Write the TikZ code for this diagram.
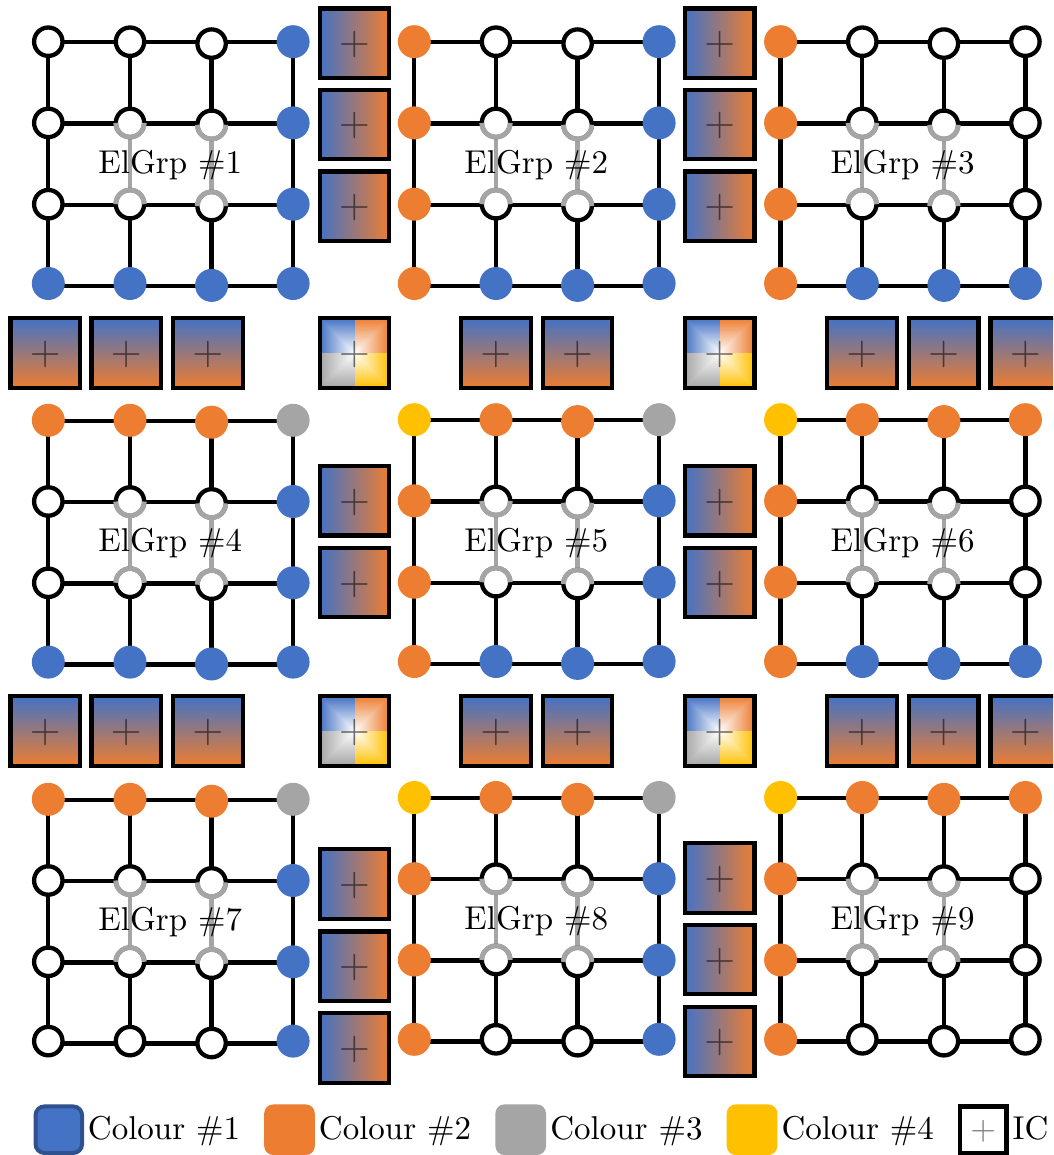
\documentclass[tikz,border=0pt]{standalone}
\usetikzlibrary{backgrounds}
\definecolor{elblue}{HTML}{4472C4}
\definecolor{elorange}{HTML}{ED7D31}
\definecolor{elgray}{HTML}{A5A5A5}
\definecolor{elyellow}{HTML}{FFC000}
\definecolor{elbluedark}{HTML}{2F528F}
\tikzset{
  dotbase/.style={circle,inner sep=0pt,outer sep=0pt,minimum size=33pt},
  vb/.style={dotbase,fill=elblue},
  vo/.style={dotbase,fill=elorange},
  vg/.style={dotbase,fill=elgray},
  vy/.style={dotbase,fill=elyellow},
  vw/.style={circle,inner sep=0pt,outer sep=0pt,minimum size=28.4pt,draw=black,fill=white,line width=4.3pt},
  conn/.style={draw=black,line width=4.3pt},
  connint/.style={draw=elgray,line width=4.3pt},
  ringint/.style={draw=elgray,line width=4.9pt},
  icbox/.style={rectangle,inner sep=0pt,outer sep=0pt,minimum size=69.4pt,draw=black,line width=4.3pt},
  ich/.style={icbox,top color=elblue,bottom color=elorange},
  icv/.style={icbox,left color=elblue,right color=elorange},
  icm/.style={icbox},
  plussign/.style={inner sep=0pt,scale=4,text=black,text opacity=0.55},
  lbl/.style={inner sep=0pt,scale=3.3,text=black},
  swatch/.style={rectangle,inner sep=0pt,outer sep=0pt,minimum size=50.6pt,rounded corners=9pt},
}
% #1 id, #2 left x, #3 top y, #4 number, #5 colours row by row
\newcommand{\elgrp}[5]{%
  \foreach \vstyle [count=\vk from 0] in {#5} {%
    \pgfmathtruncatemacro{\vrow}{int(\vk/4)}%
    \pgfmathtruncatemacro{\vcol}{mod(\vk,4)}%
    \pgfmathsetmacro{\vx}{#2+{0,81.7,163.3,244.8}[\vcol]}%
    \pgfmathsetmacro{\vy}{#3+{0,81.2,162.5,241.8}[\vrow]+(\vcol==2?1.9:0)}%
    \node[\vstyle] (#1-\vrow-\vcol) at (\vx,\vy) {};
  }%
  \begin{pgfonlayer}{background}
    \foreach \lrow/\loff in {0/0.6,1/0.6,2/0.6,3/2.3} {%
      \coordinate (#1-l\lrow) at ([yshift=-\loff pt]#1-\lrow-0.center);
      \draw[conn] (#1-l\lrow) -- (#1-l\lrow -| #1-\lrow-1.center)
        -- (#1-l\lrow -| #1-\lrow-2.center) -- (#1-l\lrow -| #1-\lrow-3.center);
    }%
    \foreach \vcc in {0,1,2,3} {%
      \draw[conn] (#1-0-\vcc.center) -- (#1-1-\vcc.center);
      \draw[conn] (#1-2-\vcc.center) -- (#1-3-\vcc.center);
    }%
    \draw[conn] (#1-1-0.center) -- (#1-2-0.center);
    \draw[conn] (#1-1-3.center) -- (#1-2-3.center);
    \draw[connint] (#1-1-1.center) -- (#1-2-1.center);
    \draw[connint] (#1-1-2.center) -- (#1-2-2.center);
  \end{pgfonlayer}
  \foreach \vcc in {1,2} {%
    \draw[ringint] (#1-1-\vcc.west) arc[start angle=180,end angle=360,radius=14.2pt];
    \draw[ringint] (#1-2-\vcc.east) arc[start angle=0,end angle=180,radius=14.2pt];
  }%
  \pgfmathsetmacro{\tx}{#2+122}%
  \pgfmathsetmacro{\ty}{#3+131.6}%
  \node[lbl,anchor=base] (#1-label) at (\tx,\ty) {ElGrp \##4};
}
% #1 name, #2 style, #3 x, #4 y
\newcommand{\icnode}[4]{%
  \node[#2] (#1) at (#3,#4) {};
  \node[plussign] (#1-plus) at ([yshift=-1.5pt]#1.center) {$+$};
}
% #1 name, #2 x, #3 y
\newcommand{\icmixed}[3]{%
  \foreach \qs in {35,34.5,...,0.5} {%
    \pgfmathtruncatemacro{\qp}{round(\qs/35*100)}%
    \fill[elblue!\qp!white] (#2,#3) rectangle ++(-\qs,-\qs);
    \fill[elorange!\qp!white] (#2,#3) rectangle ++(\qs,-\qs);
    \fill[elgray!\qp!white] (#2,#3) rectangle ++(-\qs,\qs);
    \fill[elyellow!\qp!white] (#2,#3) rectangle ++(\qs,\qs);
  }%
  \icnode{#1}{icm}{#2}{#3}
}
\begin{document}
\begin{tikzpicture}[x=1pt,y=-1pt]
\clip (0,0) rectangle (1053,1155);

\elgrp{ga}{48.3}{41.7}{1}{vw,vw,vw,vb, vw,vw,vw,vb, vw,vw,vw,vb, vb,vb,vb,vb}
\elgrp{gb}{414.3}{41.7}{2}{vo,vw,vw,vb, vo,vw,vw,vb, vo,vw,vw,vb, vo,vb,vb,vb}
\elgrp{gc}{780.6}{41.7}{3}{vo,vw,vw,vw, vo,vw,vw,vw, vo,vw,vw,vw, vo,vb,vb,vb}
\elgrp{gd}{48.3}{420.3}{4}{vo,vo,vo,vg, vw,vw,vw,vb, vw,vw,vw,vb, vb,vb,vb,vb}
\elgrp{ge}{414.3}{419.7}{5}{vy,vo,vo,vg, vo,vw,vw,vb, vo,vw,vw,vb, vo,vb,vb,vb}
\elgrp{gf}{780.6}{419.7}{6}{vy,vo,vo,vo, vo,vw,vw,vw, vo,vw,vw,vw, vo,vb,vb,vb}
\elgrp{gg}{48.3}{799.3}{7}{vo,vo,vo,vg, vw,vw,vw,vb, vw,vw,vw,vb, vw,vw,vw,vb}
\elgrp{gh}{414.3}{797.5}{8}{vy,vo,vo,vg, vo,vw,vw,vb, vo,vw,vw,vb, vo,vw,vw,vb}
\elgrp{gi}{780.6}{797.5}{9}{vy,vo,vo,vo, vo,vw,vw,vw, vo,vw,vw,vw, vo,vw,vw,vw}

% vertical-gradient interface boxes
\icnode{va1}{icv}{354.5}{43.3}
\icnode{va2}{icv}{354.5}{124.5}
\icnode{va3}{icv}{354.5}{206.2}
\icnode{vb1}{icv}{719.7}{43.3}
\icnode{vb2}{icv}{719.7}{124.5}
\icnode{vb3}{icv}{719.7}{206.2}
\icnode{vc1}{icv}{354.5}{500.7}
\icnode{vc2}{icv}{354.5}{582.5}
\icnode{vd1}{icv}{719.7}{500.7}
\icnode{vd2}{icv}{719.7}{582.5}
\icnode{ve1}{icv}{354.5}{884}
\icnode{ve2}{icv}{354.5}{966.3}
\icnode{ve3}{icv}{354.5}{1048}
\icnode{vf1}{icv}{719.7}{878}
\icnode{vf2}{icv}{719.7}{959.5}
\icnode{vf3}{icv}{719.7}{1041.4}

% horizontal-gradient interface boxes
\icnode{ha1}{ich}{45.3}{353}
\icnode{ha2}{ich}{126.3}{353}
\icnode{ha3}{ich}{208}{353}
\icnode{ha4}{ich}{496}{353}
\icnode{ha5}{ich}{577.5}{353}
\icnode{ha6}{ich}{862}{353}
\icnode{ha7}{ich}{943.7}{353}
\icnode{ha8}{ich}{1025.3}{353}
\icnode{hb1}{ich}{45.3}{731}
\icnode{hb2}{ich}{126.3}{731}
\icnode{hb3}{ich}{208}{731}
\icnode{hb4}{ich}{496}{731}
\icnode{hb5}{ich}{577.5}{731}
\icnode{hb6}{ich}{862}{731}
\icnode{hb7}{ich}{943.7}{731}
\icnode{hb8}{ich}{1025.3}{731}

% mixed interface boxes
\icmixed{ma1}{354.5}{353}
\icmixed{ma2}{719.7}{353}
\icmixed{mb1}{354.5}{731}
\icmixed{mb2}{719.7}{731}

% legend
\node[swatch,minimum size=46.6pt,fill=elblue,draw=elbluedark,line width=4pt] (leg1) at (58.8,1129.7) {};
\node[lbl,anchor=base west] (leg1t) at (87.3,1139) {Colour \#1};
\node[swatch,fill=elorange] (leg2) at (289.5,1129.7) {};
\node[lbl,anchor=base west] (leg2t) at (318.3,1139) {Colour \#2};
\node[swatch,fill=elgray] (leg3) at (520.7,1129.7) {};
\node[lbl,anchor=base west] (leg3t) at (549.6,1139) {Colour \#3};
\node[swatch,fill=elyellow] (leg4) at (752,1129.7) {};
\node[lbl,anchor=base west] (leg4t) at (781,1139) {Colour \#4};
\node[rectangle,inner sep=0pt,outer sep=0pt,minimum size=46.4pt,draw=black,line width=4.3pt] (leg5) at (983.3,1129.7) {};
\node[inner sep=0pt,scale=3.3,text=black,text opacity=0.5] (leg5p) at ([yshift=-1.3pt]leg5.center) {$+$};
\node[lbl,anchor=base west] (leg5t) at (1012,1139) {IC};
\end{tikzpicture}
\end{document}
